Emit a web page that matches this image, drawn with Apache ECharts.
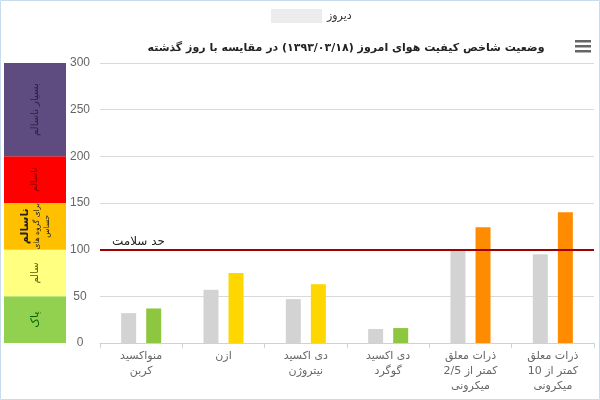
<!DOCTYPE html>
<html>
<head>
<meta charset="utf-8">
<script src="https://cdn.jsdelivr.net/npm/echarts@6/dist/echarts.min.js"></script>
<style>html,body{margin:0;padding:0;background:#fff}#c{width:600px;height:400px}</style>
</head>
<body>
<div id="c"></div>
<script>
var categories = ['منواکسید\nکربن', 'ازن', 'دی اکسید\nنیتروژن', 'دی اکسید\nگوگرد', 'ذرات معلق\nکمتر از 2/5\nمیکرونی', 'ذرات معلق\nکمتر از 10\nمیکرونی'];
var yesterday = [32, 57, 47, 15, 100, 95];
var today = [37, 75, 63, 16, 124, 140];
var yTicks = [0, 50, 100, 150, 200, 250, 300];
var healthLimit = 100;
var bandSizes = [50, 50, 50, 50, 100];
var bandLabels = ['پاک', 'سالم', '{b|ناسالم}\n{s|برای گروه های}\n{s|حساس}', 'ناسالم', 'بسیار ناسالم'];
var seriesNames = ['دیروز', 'امروز'];
var titleText = 'وضعیت شاخص کیفیت هوای امروز (۱۳۹۳/۰۳/۱۸) در مقایسه با روز گذشته';
var limitText = 'حد سلامت';

var FONT = "'DejaVu Sans', sans-serif";
var bandColors = ['#92d050', '#ffff80', '#ffc000', '#ff0000', '#5e4b7f'];
var bandTextColors = ['#006000', '#5a5a00', '#222', '#8a0000', '#2c2140'];
var bandFontSizes = [11, 10, 8, 9, 10];
var barColorsByBand = ['#8dc63f', '#ffd700', '#ff8c00', '#ff0000', '#5e4b7f'];
function bandIndex(v) {
  var acc = 0;
  for (var i = 0; i < bandSizes.length; i++) { acc += bandSizes[i]; if (v <= acc) return i; }
  return bandSizes.length - 1;
}

var bandSeries = bandSizes.map(function (s, i) {
  return {
    type: 'bar', xAxisIndex: 1, yAxisIndex: 1, stack: 'band', barWidth: '100%',
    data: [s], silent: true,
    itemStyle: { color: bandColors[i] },
    label: {
      show: true, position: 'inside', rotate: 90, formatter: bandLabels[i],
      color: bandTextColors[i], fontFamily: FONT, fontSize: bandFontSizes[i], lineHeight: 12,
      rich: {
        b: { fontSize: 11, fontWeight: 'bold', color: bandTextColors[i], fontFamily: FONT, lineHeight: 14 },
        s: { fontSize: 7.5, color: bandTextColors[i], fontFamily: FONT, lineHeight: 10 }
      }
    }
  };
});

var chart = echarts.init(document.getElementById('c'));
chart.setOption({
  animation: false,
  title: {
    text: titleText, left: 341, top: 38, textAlign: 'center',
    textStyle: { fontFamily: FONT, fontSize: 11, fontWeight: 'bold', color: '#222' }
  },
  legend: {
    data: [{ name: seriesNames[0], itemStyle: { color: '#ececec' } }],
    left: 266, top: 4, itemWidth: 51, itemHeight: 14, itemGap: 4,
    icon: 'rect',
    textStyle: { fontFamily: FONT, fontSize: 11, color: '#333' }
  },
  grid: [
    { left: 100, right: 6, top: 63, bottom: 57 },
    { left: 4, width: 62, top: 63, bottom: 57 }
  ],
  xAxis: [
    {
      type: 'category', data: categories, gridIndex: 0,
      axisLine: { lineStyle: { color: '#c8d2e0' } },
      axisTick: { show: true, length: 5, lineStyle: { color: '#c8d2e0' } },
      axisLabel: { color: '#666', fontFamily: FONT, fontSize: 11, lineHeight: 15, margin: 6, interval: 0 }
    },
    { type: 'category', data: [''], gridIndex: 1, show: false }
  ],
  yAxis: [
    {
      type: 'value', gridIndex: 0, min: yTicks[0], max: yTicks[yTicks.length - 1], interval: 50,
      axisLine: { show: false }, axisTick: { show: false },
      splitLine: { lineStyle: { color: '#d9d9d9' } },
      axisLabel: { color: '#666', fontFamily: "'Liberation Sans', Arial, sans-serif", fontSize: 12, align: 'center', margin: 20, padding: [0, 0, 6, 0] }
    },
    { type: 'value', gridIndex: 1, min: 0, max: 300, show: false }
  ],
  series: [
    {
      name: seriesNames[0], type: 'bar', data: yesterday, barWidth: 15, barGap: '67%',
      itemStyle: { color: '#d3d3d3' },
      markLine: {
        silent: true, symbol: 'none',
        data: [{ yAxis: healthLimit }],
        lineStyle: { color: '#a00000', width: 2, type: 'solid' },
        label: {
          show: true, position: 'insideStartTop', formatter: limitText, distance: [12, 2],
          color: '#222', fontFamily: FONT, fontSize: 12
        }
      }
    },
    {
      name: seriesNames[1], type: 'bar', barWidth: 15,
      data: today.map(function (v) { return { value: v, itemStyle: { color: barColorsByBand[bandIndex(v)] } }; })
    }
  ].concat(bandSeries),
  graphic: [
    { type: 'rect', shape: { x: 0.5, y: 0.5, width: 599, height: 399 }, style: { fill: 'none', stroke: '#c9dcee', lineWidth: 1 }, silent: true },
    { type: 'rect', shape: { x: 575, y: 40, width: 16, height: 2.5 }, style: { fill: '#666' } },
    { type: 'rect', shape: { x: 575, y: 45, width: 16, height: 2.5 }, style: { fill: '#666' } },
    { type: 'rect', shape: { x: 575, y: 50, width: 16, height: 2.5 }, style: { fill: '#666' } }
  ]
});
</script>
</body>
</html>
